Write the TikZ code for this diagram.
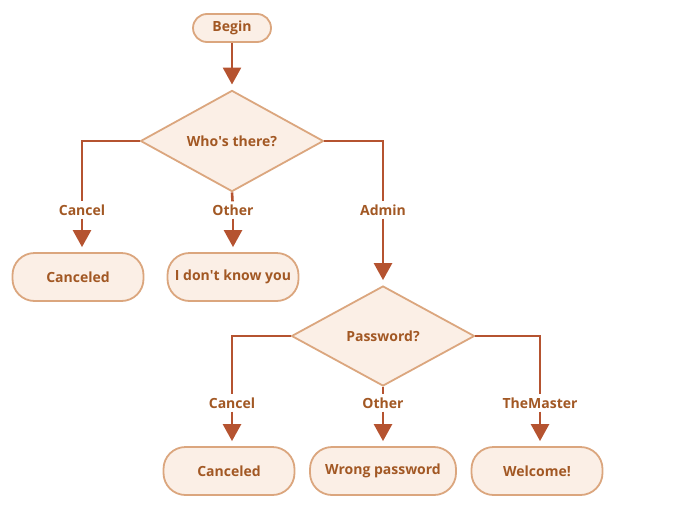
\documentclass[tikz,border=0pt]{standalone}
\usepackage{fontspec}
\setmainfont{Open Sans}
\usetikzlibrary{shapes.geometric,arrows.meta}
\definecolor{flowline}{RGB}{181,83,48}
\definecolor{flowtext}{RGB}{162,88,36}
\definecolor{flowfill}{RGB}{251,239,230}
\definecolor{flowedge}{RGB}{219,166,126}
\begin{document}
\begin{tikzpicture}[x=1pt,y=-1pt,
  every node/.style={font=\fontsize{14}{16}\selectfont\bfseries, text=flowtext},
  term/.style={rounded corners=14pt, draw=flowedge, fill=flowfill, line width=1.8pt, minimum width=78pt, minimum height=28pt},
  result/.style={rounded corners=22pt, draw=flowedge, fill=flowfill, line width=1.8pt, minimum width=131pt, minimum height=48pt},
  choice/.style={diamond, draw=flowedge, fill=flowfill, line width=1.8pt, inner sep=0pt, minimum width=183pt, minimum height=100pt},
  lbl/.style={fill=white, inner sep=3pt},
  link/.style={draw=flowline, line width=2.6pt},
  arrow/.style={link, -{Triangle[width=18pt,length=17pt]}, shorten >=5pt}]
\useasboundingbox (0,0) rectangle (676,511);

\node[term] (begin) at (232,28) {Begin};
\node[choice] (who) at (232,141) {Who\textquotesingle s there?};
\node[result] (canceled1) at (78,277) {Canceled};
\node[result] (unknown) at (233,277) {I don\textquotesingle t know you};
\node[choice] (pwd) at (383,336) {Password?};
\node[result] (canceled2) at (229,471) {Canceled};
\node[result, minimum width=146pt] (wrong) at (383,471) {Wrong password};
\node[result] (welcome) at (537,471) {Welcome!};

\node[lbl] (lcancel1) at (82,210) {Cancel};
\node[lbl] (lother1) at (233,210) {Other};
\node[lbl] (ladmin) at (383,210) {Admin};
\node[lbl] (lcancel2) at (232,403) {Cancel};
\node[lbl] (lother2) at (383,403) {Other};
\node[lbl] (lmaster) at (540,403) {TheMaster};

\draw[arrow] (begin) -- (who);

\draw[link] (who.west) -| (lcancel1);
\draw[arrow] (lcancel1) -- (lcancel1 |- canceled1.north);
\draw[link] (who.south) -- (lother1);
\draw[arrow] (lother1) -- (lother1 |- unknown.north);
\draw[link] (who.east) -| (ladmin);
\draw[arrow] (ladmin) -- (pwd.north);

\draw[link] (pwd.west) -| (lcancel2);
\draw[arrow] (lcancel2) -- (lcancel2 |- canceled2.north);
\draw[link] (pwd.south) -- (lother2);
\draw[arrow] (lother2) -- (wrong.north);
\draw[link] (pwd.east) -| (lmaster);
\draw[arrow] (lmaster) -- (lmaster |- welcome.north);

\end{tikzpicture}
\end{document}
